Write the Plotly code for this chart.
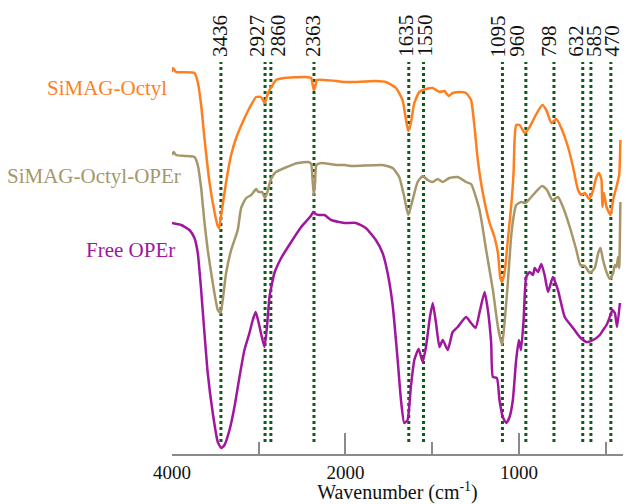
import plotly.graph_objects as go

# ---------------- data ----------------
octyl_wn = [4000, 3990, 3952, 3741, 3703, 3664, 3626, 3568, 3510, 3472, 3455, 3433, 3376, 3318, 3260,
            3184, 3107, 3030, 2975, 2930, 2900, 2870, 2840, 2800, 2703, 2473, 2395, 2380, 2365, 2350,
            2330, 2242, 2100, 2012, 1960, 1825, 1767, 1709, 1671, 1651, 1638, 1623, 1603, 1574, 1536,
            1497, 1458, 1430, 1405, 1382, 1343, 1305, 1276, 1256, 1237, 1208, 1169, 1141, 1121, 1108,
            1098, 1083, 1064, 1045, 1031, 1025, 1016, 996, 967, 938, 909, 865, 842, 813, 784, 756, 717,
            688, 659, 640, 620, 595, 572, 553, 538, 524, 519, 510, 495, 472, 457, 438, 422, 415]
octyl_t = [382, 386, 382, 381, 372, 349, 316, 272, 242, 228, 226, 239, 272, 299, 316,
           332, 346, 357, 357, 351, 359, 365, 369, 374, 376, 377, 376, 370, 364, 367,
           374, 374, 373, 372, 372, 373, 372, 366, 354, 334, 323, 331, 351, 362, 365,
           366, 362, 363, 358, 361, 362, 361, 354, 327, 294, 261, 231, 217, 201, 177,
           172, 181, 214, 247, 281, 314, 329, 329, 321, 327, 337, 349, 344, 331, 335, 326, 307,
           287, 264, 259, 261, 255, 264, 277, 281, 274, 247, 261, 247, 239, 254, 267, 279, 314]

oper_wn = [4000, 3980, 3952, 3856, 3741, 3703, 3664, 3626, 3588, 3530, 3472, 3440, 3415, 3376, 3318,
           3242, 3203, 3145, 3087, 3030, 3003, 2960, 2930, 2900, 2870, 2840, 2800, 2703, 2550, 2427,
           2395, 2380, 2365, 2350, 2335, 2280, 2100, 2012, 1960, 1786, 1728, 1690, 1661, 1638, 1613,
           1584, 1555, 1526, 1497, 1468, 1439, 1401, 1353, 1305, 1276, 1227, 1189, 1150, 1121, 1097,
           1083, 1064, 1045, 1031, 1016, 987, 961, 929, 867, 838, 808, 775, 746, 707, 669, 646, 620,
           591, 563, 543, 530, 515, 495, 476, 457, 447, 438, 428, 422, 415]
oper_t = [299, 302, 299, 298, 297, 289, 266, 232, 204, 171, 144, 141, 154, 181, 204,
          224, 246, 256, 259, 265, 262, 262, 256, 262, 272, 278, 282, 286, 291, 292,
          290, 275, 259, 272, 289, 291, 289, 289, 288, 289, 286, 277, 257, 239, 254,
          272, 278, 274, 272, 275, 272, 276, 277, 272, 270, 244, 204, 164, 127, 109,
          131, 171, 217, 237, 249, 252, 251, 257, 268, 264, 254, 257, 247, 227, 204, 189, 188,
          181, 186, 201, 206, 194, 182, 175, 181, 189, 187, 197, 186, 252]

free_wn = [4000, 3894, 3799, 3741, 3703, 3664, 3626, 3588, 3530, 3472, 3433, 3395, 3337, 3280, 3222,
           3165, 3107, 3069, 3035, 3000, 2935, 2905, 2876, 2819, 2741, 2626, 2511, 2440, 2400, 2370,
           2345, 2300, 2242, 2165, 2012, 1940, 1883, 1825, 1786, 1757, 1728, 1699, 1680, 1661, 1642,
           1623, 1603, 1578, 1555, 1536, 1513, 1497, 1478, 1458, 1439, 1410, 1382, 1353, 1305, 1276,
           1250, 1224, 1198, 1179, 1160, 1150, 1127, 1112, 1093, 1073, 1054, 1035, 1016, 1000, 988,
           973, 958, 938, 919, 909, 890, 871, 852, 832, 804, 775, 736, 688, 649, 611, 572, 534, 515,
           495, 476, 461, 447, 434, 418]
free_t = [231, 229, 224, 216, 201, 164, 121, 81, 41, 12, 6, 9, 24, 47, 77,
          104, 121, 134, 142, 131, 107, 127, 157, 181, 196, 212, 227, 234, 238, 242,
          240, 239, 239, 234, 231, 231, 226, 214, 201, 181, 149, 94, 54, 31, 34,
          67, 94, 105, 92, 107, 137, 151, 131, 107, 114, 104, 122, 127, 137, 131,
          126, 144, 162, 144, 111, 77, 76, 54, 37, 31, 37, 54, 94, 114, 104,
          134, 177, 182, 179, 186, 182, 190, 179, 162, 177, 164, 137, 126, 117, 112, 114, 119, 124,
          129, 137, 144, 141, 127, 151]

peaks = [3436, 2927, 2860, 2363, 1635, 1550, 1095, 960, 798, 632, 585, 470]
peak_line_range = [12, 392]

tick_labels = [4000, 2000, 1000, 400]
long_ticks = [2000, 1000]
short_ticks = [3000, 1500, 500]

series = [
    ("SiMAG-Octyl", octyl_wn, octyl_t, "#ff7f1e"),
    ("SiMAG-Octyl-OPEr", oper_wn, oper_t, "#a6976a"),
    ("Free OPEr", free_wn, free_t, "#a0169e"),
]

# ---------------- styling ----------------
label_pos = {"SiMAG-Octyl": (-0.007, 366), "SiMAG-Octyl-OPEr": (0.024, 278), "Free OPEr": (0.011, 204)}
# horizontal nudges (px) that keep neighbouring rotated peak labels apart
peak_label_shift = [-1, -8, 7, -1, -3, 1, -4, -9, -5, -7, 3, 1]


# wavenumber axis is compressed by a factor 2 above 2000 cm-1
def tx(w):
    return w if w <= 2000 else 2000 + (w - 2000) / 2.0


XR = [tx(4000), tx(400)]
SERIF = "Liberation Serif, Times New Roman, serif"
GREEN = "#0f5b1a"

fig = go.Figure()

for p in peaks:
    fig.add_trace(go.Scatter(x=[tx(p), tx(p)], y=peak_line_range, mode="lines",
                             line=dict(color=GREEN, width=3, dash="dot"),
                             hoverinfo="skip", showlegend=False))

for name, wn, t, col in series:
    fig.add_trace(go.Scatter(x=[tx(w) for w in wn], y=t, mode="lines", name=name,
                             line=dict(color=col, width=2.5, shape="spline", smoothing=0.5),
                             showlegend=False))

# invisible trace to carry the second (tick) axis
fig.add_trace(go.Scatter(x=[tx(4000)], y=[0], xaxis="x2", mode="markers",
                         marker=dict(opacity=0), hoverinfo="skip", showlegend=False))

annotations = []
for p, sh in zip(peaks, peak_label_shift):
    annotations.append(dict(x=tx(p), y=395, xref="x", yref="y", text=str(p), textangle=-90,
                            showarrow=False, xanchor="center", yanchor="bottom", xshift=sh,
                            font=dict(family=SERIF, size=21, color="#111111")))
for name, wn, t, col in series:
    lx, ly = label_pos[name]
    annotations.append(dict(x=lx, y=ly, xref="paper", yref="y", text=name, showarrow=False,
                            xanchor="right", yanchor="middle",
                            font=dict(family=SERIF, size=21, color=col)))

fig.update_layout(
    width=633, height=504,
    margin=dict(l=172, r=10, t=0, b=50, autoexpand=False),
    paper_bgcolor="white", plot_bgcolor="white",
    showlegend=False,
    annotations=annotations,
    xaxis=dict(
        range=XR, showgrid=False, zeroline=False,
        showline=True, linecolor="#8a8a8a", linewidth=1.5,
        tickvals=[tx(v) for v in tick_labels], ticktext=[str(v) for v in tick_labels],
        ticks="", tickfont=dict(family=SERIF, size=19, color="#111111"),
        minor=dict(tickvals=[tx(v) for v in short_ticks], ticks="inside", ticklen=12,
                   tickcolor="#8a8a8a", tickwidth=1.5, showgrid=False),
        title=dict(text="Wavenumber (cm<sup>-1</sup>)", standoff=6,
                   font=dict(family=SERIF, size=20, color="#111111")),
        automargin=False,
    ),
    xaxis2=dict(
        range=XR, overlaying="x", anchor="y", side="bottom",
        showgrid=False, zeroline=False, showline=False,
        tickvals=[tx(v) for v in long_ticks], ticks="inside", ticklen=21,
        tickcolor="#8a8a8a", tickwidth=1.5, showticklabels=False,
    ),
    yaxis=dict(range=[0, 454], visible=False, fixedrange=True),
)

fig.write_html("out.html")
